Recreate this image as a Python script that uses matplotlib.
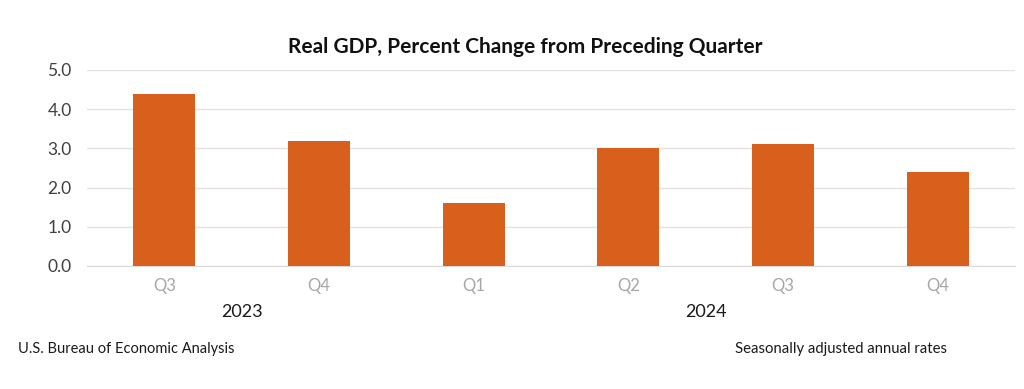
import matplotlib
matplotlib.use("Agg")
import matplotlib.pyplot as plt

quarters = ["Q3", "Q4", "Q1", "Q2", "Q3", "Q4"]
years = ["2023", "2024"]
year_spans = [(0, 1), (2, 5)]
values = [4.4, 3.2, 1.6, 3.0, 3.1, 2.4]
yticks = [0.0, 1.0, 2.0, 3.0, 4.0, 5.0]

plt.rcParams['font.family'] = ['Lato', 'DejaVu Sans']

fig = plt.figure(figsize=(10.24, 3.89), dpi=100)
ax = fig.add_axes([87/1024, 1 - 266/389, (1015-87)/1024, (266-70)/389])

x = list(range(len(values)))
ax.bar(x, values, width=0.4, color="#D8601C", zorder=3)
ax.set_xlim(-0.5, len(values) - 0.5)
ax.set_ylim(0, 5.0)
ax.set_yticks(yticks)
ax.set_yticklabels([f"{v:.1f}" for v in yticks], color="#404040", fontsize=12.5)
ax.set_xticks(x)
ax.set_xticklabels(quarters, color="#A6A6A6", fontsize=12)
ax.tick_params(axis='both', length=0)
ax.tick_params(axis='x', pad=9)
ax.tick_params(axis='y', pad=11)
ax.grid(axis='y', color="#E3E3E3", linewidth=1, zorder=0)
for s in ax.spines.values():
    s.set_visible(False)
ax.spines['bottom'].set_visible(True)
ax.spines['bottom'].set_color("#D9D9D9")

for yr, (a, b) in zip(years, year_spans):
    ax.text((a + b) / 2, (266 - 312) / 196, yr, transform=ax.get_xaxis_transform(),
            ha='center', va='center', fontsize=13, color="#1a1a1a")

fig.text(525/1024, 1 - 47/389, "Real GDP, Percent Change from Preceding Quarter",
         ha='center', va='center', fontsize=15, fontweight='bold', color="#111111")
fig.text(18/1024, 1 - 349/389, "U.S. Bureau of Economic Analysis",
         ha='left', va='center', fontsize=10.5, color="#1a1a1a")
fig.text(735/1024, 1 - 349/389, "Seasonally adjusted annual rates",
         ha='left', va='center', fontsize=10.7, color="#1a1a1a")

fig.savefig("out.png", dpi=100, facecolor="white")
